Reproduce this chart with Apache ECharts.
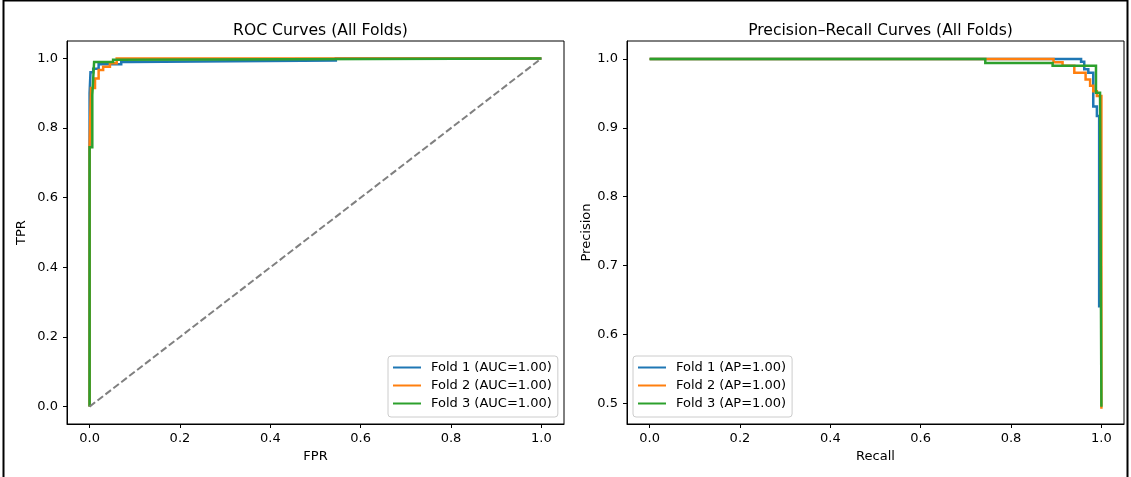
<!DOCTYPE html>
<html>
<head>
<meta charset="utf-8">
<script src="https://cdn.jsdelivr.net/npm/echarts@6/dist/echarts.min.js"></script>
<style>html,body{margin:0;padding:0;background:#fff}#c{width:1131px;height:477px}</style>
</head>
<body>
<div id="c"></div>
<script>
// ---- data ----
const rocTitle = 'ROC Curves (All Folds)';
const prTitle = 'Precision\u2013Recall Curves (All Folds)';
const rocNames = ['Fold 1 (AUC=1.00)', 'Fold 2 (AUC=1.00)', 'Fold 3 (AUC=1.00)'];
const prNames = ['Fold 1 (AP=1.00)', 'Fold 2 (AP=1.00)', 'Fold 3 (AP=1.00)'];
const rocXTicks = [0, 0.2, 0.4, 0.6, 0.8, 1.0];
const rocYTicks = [0, 0.2, 0.4, 0.6, 0.8, 1.0];
const prXTicks = [0, 0.2, 0.4, 0.6, 0.8, 1.0];
const prYTicks = [0.5, 0.6, 0.7, 0.8, 0.9, 1.0];

// ROC: [FPR, TPR]
const rocFold1 = [[0,0],[0,0.900],[0.002,0.900],[0.002,0.960],[0.008,0.960],[0.008,0.970],[0.020,0.970],[0.020,0.983],[0.070,0.983],[0.070,0.990],[0.088,0.990],[0.088,0.994],[0.545,0.994],[0.545,1.0],[1.0,1.0]];
const rocFold2 = [[0,0],[0,0.750],[0.003,0.750],[0.003,0.915],[0.012,0.915],[0.012,0.942],[0.020,0.942],[0.020,0.967],[0.030,0.967],[0.030,0.976],[0.045,0.976],[0.045,0.986],[0.060,0.986],[0.060,1.0],[1.0,1.0]];
const rocFold3 = [[0,0],[0,0.745],[0.006,0.745],[0.006,0.895],[0.010,0.895],[0.010,0.990],[0.052,0.990],[0.052,0.996],[0.058,0.996],[0.058,1.0],[1.0,1.0]];
const rocChance = [[0,0],[1,1]];

// PR: [Recall, Precision]
const prFold1 = [[0,1.0],[0.955,1.0],[0.955,0.996],[0.962,0.996],[0.962,0.985],[0.971,0.985],[0.971,0.980],[0.982,0.980],[0.982,0.931],[0.990,0.931],[0.990,0.917],[0.995,0.917],[0.995,0.641],[1.0,0.641]];
const prFold2 = [[0,1.0],[0.894,1.0],[0.894,0.995],[0.914,0.995],[0.914,0.990],[0.940,0.990],[0.940,0.980],[0.965,0.980],[0.965,0.970],[0.975,0.970],[0.975,0.961],[0.982,0.961],[0.982,0.953],[0.990,0.953],[0.990,0.946],[1.0,0.946],[1.0,0.492]];
const prFold3 = [[0,1.0],[0.743,1.0],[0.743,0.994],[0.892,0.994],[0.892,0.990],[0.988,0.990],[0.988,0.951],[0.997,0.951],[0.997,0.945],[1.0,0.945],[1.0,0.495]];

// ---- styling ----
const FONT = 'DejaVu Sans';
const colors = ['#1f77b4', '#ff7f0e', '#2ca02c'];
const chart = echarts.init(document.getElementById('c'), null, {renderer: 'canvas'});

function xAxis(gridIndex, name, ticks, min, max) {
  return {
    type: 'value', gridIndex, min, max, name, nameLocation: 'middle', nameGap: 26,
    nameTextStyle: {fontFamily: FONT, fontSize: 13, color: '#000'},
    axisLine: {show: true, onZero: false, lineStyle: {color: '#000', width: 1}},
    axisTick: {show: true, length: 4, customValues: ticks, lineStyle: {color: '#000', width: 1}},
    axisLabel: {show: true, margin: 8, customValues: ticks, fontFamily: FONT, fontSize: 13, color: '#000',
      formatter: v => v.toFixed(1)},
    splitLine: {show: false}
  };
}
function yAxis(gridIndex, name, ticks, min, max, gap) {
  return {
    type: 'value', gridIndex, min, max, name, nameLocation: 'middle', nameGap: gap, nameRotate: 90,
    nameTextStyle: {fontFamily: FONT, fontSize: 13, color: '#000'},
    axisLine: {show: true, onZero: false, lineStyle: {color: '#000', width: 1}},
    axisTick: {show: true, length: 4, customValues: ticks, lineStyle: {color: '#000', width: 1}},
    axisLabel: {show: true, margin: 9, customValues: ticks, fontFamily: FONT, fontSize: 13, color: '#000',
      formatter: v => v.toFixed(1)},
    splitLine: {show: false}
  };
}
function lineSeries(name, data, color, xi, yi) {
  return {
    type: 'line', name, data, xAxisIndex: xi, yAxisIndex: yi,
    showSymbol: false, symbol: 'none', animation: false, silent: true,
    lineStyle: {color, width: 2.5, join: 'miter'}, itemStyle: {color}
  };
}
function legend(names, left) {
  return {
    data: names, orient: 'vertical', left, top: 356, padding: [4, 6, 6, 5],
    itemWidth: 28, itemHeight: 2, itemGap: 3, icon: 'rect', selectedMode: false,
    borderColor: '#cccccc', borderWidth: 1, borderRadius: 3, backgroundColor: 'rgba(255,255,255,0.8)',
    textStyle: {fontFamily: FONT, fontSize: 13, color: '#000', lineHeight: 15, padding: [0, 0, 0, 5]}
  };
}

const option = {
  backgroundColor: '#fff',
  animation: false,
  title: [
    {text: rocTitle, left: 315.5, top: 18, textAlign: 'center',
      textStyle: {fontFamily: FONT, fontSize: 15.6, fontWeight: 'normal', color: '#000'}},
    {text: prTitle, left: 875.5, top: 18, textAlign: 'center',
      textStyle: {fontFamily: FONT, fontSize: 15.6, fontWeight: 'normal', color: '#000'}}
  ],
  grid: [
    {left: 67, right: 567, top: 41, bottom: 53, show: true, borderColor: '#000', borderWidth: 1, backgroundColor: 'transparent', outerBoundsMode: 'none'},
    {left: 627, right: 7, top: 41, bottom: 53, show: true, borderColor: '#000', borderWidth: 1, backgroundColor: 'transparent', outerBoundsMode: 'none'}
  ],
  xAxis: [
    xAxis(0, 'FPR', rocXTicks, -0.05, 1.05),
    xAxis(1, 'Recall', prXTicks, -0.05, 1.05)
  ],
  yAxis: [
    yAxis(0, 'TPR', rocYTicks, -0.05, 1.05, 39),
    yAxis(1, 'Precision', prYTicks, 0.47, 1.026, 34)
  ],
  legend: [legend(rocNames, 388), legend(prNames, 633)],
  series: [
    lineSeries(rocNames[0], rocFold1, colors[0], 0, 0),
    lineSeries(rocNames[1], rocFold2, colors[1], 0, 0),
    lineSeries(rocNames[2], rocFold3, colors[2], 0, 0),
    {type: 'line', name: 'chance', data: rocChance, xAxisIndex: 0, yAxisIndex: 0, showSymbol: false, symbol: 'none', silent: true,
      lineStyle: {color: '#808080', width: 2, type: [7, 3]}},
    lineSeries(prNames[0], prFold1, colors[0], 1, 1),
    lineSeries(prNames[1], prFold2, colors[1], 1, 1),
    lineSeries(prNames[2], prFold3, colors[2], 1, 1)
  ],
  graphic: [
    {type: 'rect', silent: true, z: 100, shape: {x: 3.5, y: 0.5, width: 1124, height: 485},
      style: {fill: 'none', stroke: '#000', lineWidth: 2}}
  ]
};
chart.setOption(option);
</script>
</body>
</html>
